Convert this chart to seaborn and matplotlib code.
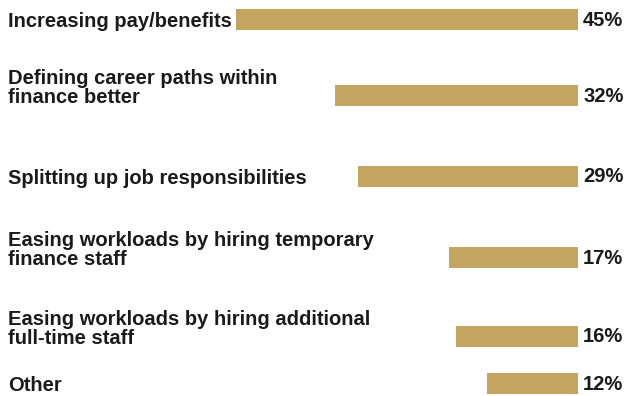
import numpy as np
import pandas as pd
import matplotlib
matplotlib.use("Agg")
import matplotlib.pyplot as plt
import matplotlib.transforms as mtransforms
import seaborn as sns

# Survey answers and their shares (percent)
categories = [
    "Increasing pay/benefits",
    "Defining career paths within\nfinance better",
    "Splitting up job responsibilities",
    "Easing workloads by hiring temporary\nfinance staff",
    "Easing workloads by hiring additional\nfull-time staff",
    "Other",
]
values = [45, 32, 29, 17, 16, 12]

# Layout: vertical centre of each row (in figure pixels from the top)
row_y = [19, 95, 176, 257, 336, 383]
BAR_PX = 21
PX_PER_PCT = 7.6
BAR_END_PX = 578
W, H = 626, 396

BAR_COLOR = "#C3A560"
TEXT_COLOR = "#1a1a1a"

sns.set_style("white")
plt.rcParams["font.family"] = ["Liberation Sans", "DejaVu Sans"]

df = pd.DataFrame({"answer": categories, "share": values, "row": row_y})

fig = plt.figure(figsize=(W / 100, H / 100), dpi=100)
ax = fig.add_axes([0, 0, 1, 1])

min_gap = float(np.min(np.diff(sorted(row_y))))
sns.barplot(
    data=df, x="share", y="row", orient="y", native_scale=True,
    color=BAR_COLOR, saturation=1, width=BAR_PX / min_gap,
    edgecolor="none", linewidth=0, ax=ax,
)

# Bars grow leftwards from a common right edge
ax.set_xlim(BAR_END_PX / PX_PER_PCT, -(W - BAR_END_PX) / PX_PER_PCT)
ax.set_ylim(H, 0)
ax.axis("off")

label_tr = mtransforms.blended_transform_factory(ax.transAxes, ax.transData)
for name, val, y in zip(df["answer"], df["share"], df["row"]):
    ax.annotate(
        name, xy=(8 / W, y), xycoords=label_tr,
        xytext=(0, -12), textcoords="offset pixels",
        ha="left", va="bottom", fontsize=14.5, fontweight="bold",
        color=TEXT_COLOR, linespacing=1.02,
    )
    ax.annotate(
        f"{val}%", xy=(0, y), xytext=(5, -1), textcoords="offset pixels",
        ha="left", va="center", fontsize=14.5, fontweight="bold",
        color=TEXT_COLOR,
    )

fig.savefig("out.png", dpi=100)
